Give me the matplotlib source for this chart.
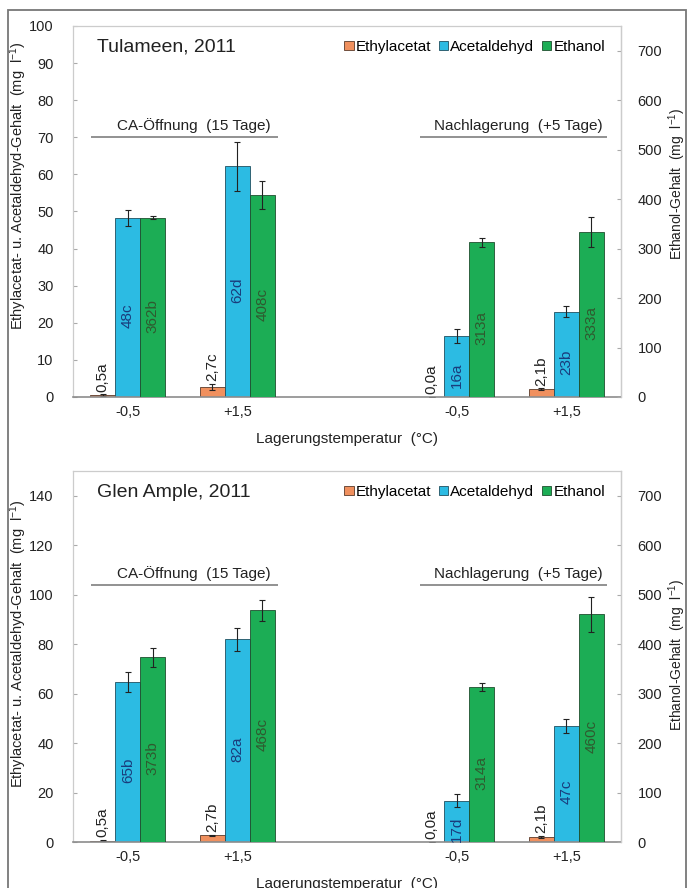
import matplotlib
matplotlib.use('Agg')
import matplotlib.pyplot as plt
import numpy as np
from matplotlib.patches import Rectangle

plt.rcParams['font.family'] = ['Liberation Sans', 'DejaVu Sans']
plt.rcParams['mathtext.fontset'] = 'custom'
plt.rcParams['mathtext.rm'] = 'Liberation Sans'
plt.rcParams['mathtext.it'] = 'Liberation Sans:italic'

# categories
temps = ['-0,5', '+1,5', '-0,5', '+1,5']
xpos = [0, 1, 3, 4]
phases = ['CA-Öffnung  (15 Tage)', 'Nachlagerung  (+5 Tage)']
series = ['Ethylacetat', 'Acetaldehyd', 'Ethanol']

# Tulameen, 2011
tul_ea = [0.5, 2.7, 0.0, 2.1]
tul_ea_err = [0.2, 0.9, 0.0, 0.2]
tul_ea_lab = ['0,5a', '2,7c', '0,0a', '2,1b']
tul_ac = [48.3, 62.2, 16.4, 23.0]
tul_ac_err = [2.2, 6.6, 1.9, 1.5]
tul_ac_lab = ['48c', '62d', '16a', '23b']
tul_et = [362, 408, 313, 333]
tul_et_err = [3, 28, 9, 30]
tul_et_lab = ['362b', '408c', '313a', '333a']

# Glen Ample, 2011
gle_ea = [0.5, 2.7, 0.0, 2.1]
gle_ea_err = [0.2, 0.3, 0.0, 0.3]
gle_ea_lab = ['0,5a', '2,7b', '0,0a', '2,1b']
gle_ac = [64.7, 82.0, 16.7, 47.0]
gle_ac_err = [4.0, 4.6, 2.7, 2.8]
gle_ac_lab = ['65b', '82a', '17d', '47c']
gle_et = [373, 468, 314, 460]
gle_et_err = [19, 21, 8, 36]
gle_et_lab = ['373b', '468c', '314a', '460c']

C_EA = '#F0905E'
C_AC = '#2CBBE3'
C_ET = '#1CAD55'
FS = 11
TFS = 10.5

W = 694.0
H = 888.0
fig = plt.figure(figsize=(W / 100, H / 100), dpi=100)


def panel(top, bottom, title, ea, ea_err, ea_lab, ac, ac_err, ac_lab,
          et, et_err, et_lab, ymax, ystep, line_y, ylab_y, y2lab_y):
    ax = fig.add_axes([73 / W, 1 - bottom / H, 548 / W, (bottom - top) / H])
    ax2 = ax.twinx()
    x = np.array(xpos, dtype=float)
    bw = 0.228
    ek = dict(ecolor='#222222', elinewidth=0.8, capsize=2, capthick=0.8)
    b1 = ax.bar(x - bw, ea, bw, yerr=ea_err, color=C_EA, edgecolor='#5a3a2a',
                linewidth=0.6, error_kw=ek, zorder=2)
    b2 = ax.bar(x, ac, bw, yerr=ac_err, color=C_AC, edgecolor='#1f4f60',
                linewidth=0.6, error_kw=ek, zorder=2)
    b3 = ax2.bar(x + bw, et, bw, yerr=et_err, color=C_ET, edgecolor='#1f4f2f',
                 linewidth=0.6, error_kw=ek, zorder=2)

    for xi, h, e, lab in zip(x - bw, ea, ea_err, ea_lab):
        ax.annotate(lab, (xi, h + e), xytext=(0, 2), textcoords='offset points',
                    rotation=90, ha='center', va='bottom', fontsize=FS,
                    color='#222222')
    for xi, h, lab in zip(x, ac, ac_lab):
        ax.annotate(lab, (xi, h / 2), xytext=(0, -6), textcoords='offset points',
                    rotation=90, ha='center', va='center', fontsize=FS,
                    color='#1A3C7C', zorder=5)
    for xi, h, lab in zip(x + bw, et, et_lab):
        ax2.annotate(lab, (xi, h / 2), xytext=(0, -6), textcoords='offset points',
                     rotation=90, ha='center', va='center', fontsize=FS,
                     color='#2F5A2F', zorder=5)

    ax.set_xlim(-0.5, 4.5)
    ax.set_ylim(0, ymax)
    ax.set_yticks(np.arange(0, ymax + 0.1, ystep))
    ax2.set_ylim(0, 750)
    ax2.set_yticks(np.arange(0, 701, 100))
    ax.set_xticks(x)
    ax.set_xticklabels(temps)

    ax.tick_params(axis='y', direction='in', length=3, color='#aaaaaa',
                   pad=14, labelsize=TFS, labelcolor='#222222')
    ax.tick_params(axis='x', length=0, pad=6, labelsize=TFS, labelcolor='#222222')
    ax2.tick_params(axis='y', direction='in', length=3, color='#aaaaaa',
                    pad=12, labelsize=TFS, labelcolor='#222222')

    for s in ['top', 'right', 'left']:
        ax.spines[s].set_color('#cccccc')
        ax.spines[s].set_linewidth(0.9)
    ax.spines['bottom'].set_color('#8c8c8c')
    ax.spines['bottom'].set_linewidth(1.2)
    for s in ['top', 'left', 'bottom']:
        ax2.spines[s].set_visible(False)
    ax2.spines['right'].set_color('#cccccc')
    ax2.spines['right'].set_linewidth(0.9)

    ax.set_xlabel('Lagerungstemperatur  (°C)', fontsize=FS, labelpad=9,
                  color='#222222')
    ax.text(-0.1, ylab_y, 'Ethylacetat- u. Acetaldehyd-Gehalt  (mg  l$^{-1}$)',
            transform=ax.transAxes, rotation=90, ha='center', va='center',
            fontsize=10.5, color='#222222')
    ax.text(1.102, y2lab_y, 'Ethanol-Gehalt  (mg  l$^{-1}$)',
            transform=ax.transAxes, rotation=90, ha='center', va='center',
            fontsize=10, color='#222222')

    # phase lines
    ax.plot([-0.336, 1.37], [line_y, line_y], color='#7f7f7f', lw=1.2,
            solid_capstyle='butt')
    ax.plot([2.666, 4.37], [line_y, line_y], color='#7f7f7f', lw=1.2,
            solid_capstyle='butt')
    ax.annotate(phases[0], (0.6, line_y), xytext=(0, 3),
                textcoords='offset points', ha='center', va='bottom',
                fontsize=FS, color='#222222')
    ax.annotate(phases[1], (3.56, line_y), xytext=(0, 3),
                textcoords='offset points', ha='center', va='bottom',
                fontsize=FS, color='#222222')

    ty = 1 - 21 / (bottom - top)
    ax.text(0.044, ty, title, transform=ax.transAxes, ha='left', va='center',
            fontsize=14, color='#222222')
    ax2.legend([b1, b2, b3], series, loc='center right',
               bbox_to_anchor=(0.985, ty), ncol=3, frameon=False,
               handlelength=0.6, handleheight=0.6, handletextpad=0.15,
               columnspacing=0.5, borderpad=0, fontsize=FS)
    return ax


panel(26, 397, 'Tulameen, 2011', tul_ea, tul_ea_err, tul_ea_lab,
      tul_ac, tul_ac_err, tul_ac_lab, tul_et, tul_et_err, tul_et_lab,
      100, 10, 70, 0.569, 0.574)
panel(471, 842, 'Glen Ample, 2011', gle_ea, gle_ea_err, gle_ea_lab,
      gle_ac, gle_ac_err, gle_ac_lab, gle_et, gle_et_err, gle_et_lab,
      150, 20, 104, 0.534, 0.504)

fig.add_artist(Rectangle((8 / W, -0.02), 678 / W, (H - 10) / H + 0.02,
                         transform=fig.transFigure, fill=False,
                         edgecolor='#777777', linewidth=1.3))

plt.savefig('out.png', dpi=100)
